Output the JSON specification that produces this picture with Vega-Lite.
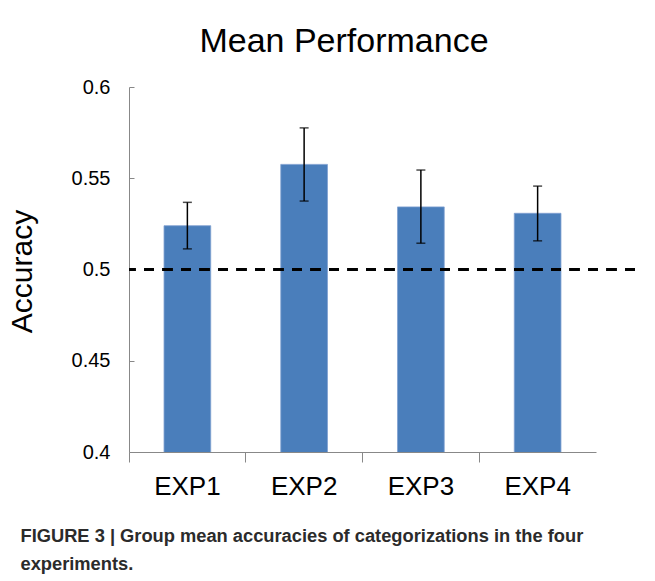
{
  "$schema": "https://vega.github.io/schema/vega-lite/v6.json",
  "width": 506,
  "height": 365,
  "autosize": {"type": "none"},
  "padding": {"left": 129, "top": 87, "right": 20, "bottom": 129},
  "background": "white",
  "config": {
    "view": {"stroke": null},
    "font": "Liberation Sans"
  },
  "title": {
    "text": "Mean Performance",
    "fontSize": 34,
    "fontWeight": "normal",
    "font": "Liberation Sans",
    "color": "#000000",
    "anchor": "middle",
    "dx": -38,
    "offset": 18
  },
  "data": {
    "values": [
      {"exp": "EXP1", "mean": 0.524, "lo": 0.5113, "hi": 0.5368},
      {"exp": "EXP2", "mean": 0.5576, "lo": 0.5375, "hi": 0.5776},
      {"exp": "EXP3", "mean": 0.5343, "lo": 0.5144, "hi": 0.5545},
      {"exp": "EXP4", "mean": 0.5308, "lo": 0.5157, "hi": 0.5457}
    ]
  },
  "encoding": {
    "x": {
      "field": "exp",
      "type": "nominal",
      "scale": {"range": [0, 467], "paddingInner": 0, "paddingOuter": 0},
      "axis": {
        "title": ["FIGURE 3 | Group mean accuracies of categorizations in the four", "experiments."],
        "titleFont": "Liberation Sans",
        "titleFontSize": 18.3,
        "titleFontWeight": "bold",
        "titleColor": "#2b2b2b",
        "titleAnchor": "start",
        "titleAlign": "left",
        "titleBaseline": "alphabetic",
        "titleX": -109,
        "titleY": 89,
        "titleLineHeight": 28,
        "labelAngle": 0,
        "labelFontSize": 26,
        "labelColor": "#000000",
        "labelPadding": 11,
        "bandPosition": 0,
        "tickSize": 10,
        "tickColor": "#888888",
        "domainColor": "#888888",
        "grid": false
      }
    }
  },
  "layer": [
    {
      "mark": {"type": "bar", "color": "#4a7ebb", "width": {"band": 0.4}, "stroke": "#7fa0d0", "strokeWidth": 0.8, "clip": true},
      "encoding": {
        "y": {
          "field": "mean",
          "type": "quantitative",
          "scale": {"domain": [0.4, 0.6], "nice": false, "zero": false},
          "axis": {
            "title": "Accuracy",
            "titleFontSize": 30,
            "titleFontWeight": "normal",
            "titleColor": "#000000",
            "titleAngle": -90,
            "titleAlign": "center",
            "titleBaseline": "middle",
            "titleX": -107,
            "titleY": 184,
            "values": [0.4, 0.45, 0.5, 0.55, 0.6],
            "labelExpr": "datum.value == 0.5 ? '0.5' : datum.value == 0.4 ? '0.4' : datum.value == 0.6 ? '0.6' : datum.label",
            "labelFontSize": 20,
            "labelColor": "#000000",
            "tickSize": -5,
            "labelPadding": 24,
            "tickColor": "#888888",
            "domainColor": "#888888",
            "grid": false
          }
        }
      }
    },
    {
      "mark": {"type": "rule", "color": "#000000", "strokeWidth": 1.5},
      "encoding": {
        "y": {"field": "lo", "type": "quantitative"},
        "y2": {"field": "hi"}
      }
    },
    {
      "mark": {"type": "tick", "color": "#000000", "thickness": 1.5, "size": 9},
      "encoding": {
        "y": {"field": "lo", "type": "quantitative"}
      }
    },
    {
      "mark": {"type": "tick", "color": "#000000", "thickness": 1.5, "size": 9},
      "encoding": {
        "y": {"field": "hi", "type": "quantitative"}
      }
    },
    {
      "mark": {"type": "rule", "color": "#000000", "strokeWidth": 3, "strokeDash": [10, 8.5]},
      "encoding": {"y": {"datum": 0.5}, "x": null}
    }
  ]
}
